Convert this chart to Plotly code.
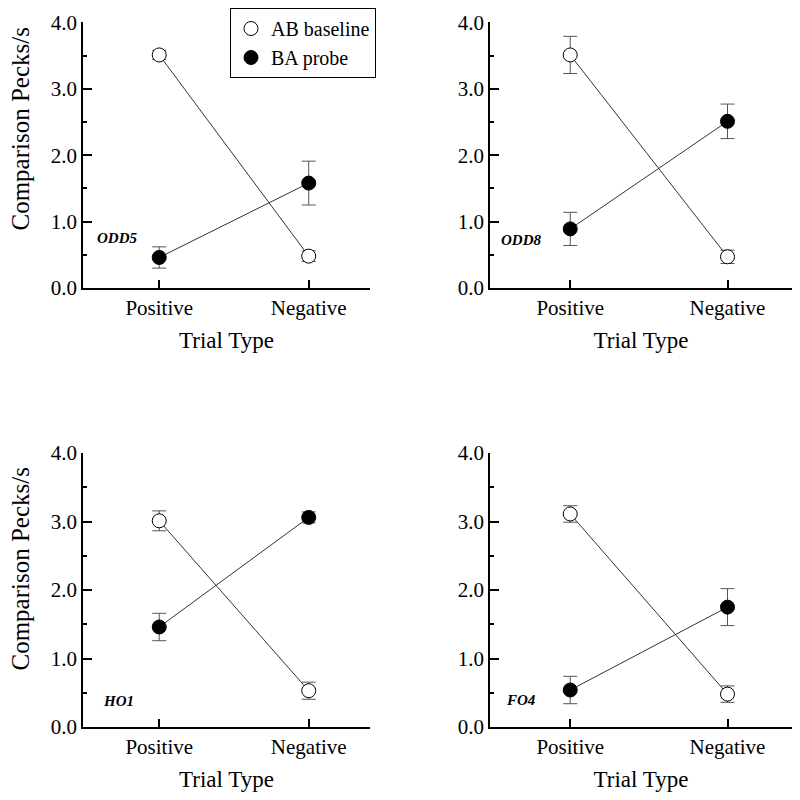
import plotly.graph_objects as go

categories = ["Positive", "Negative"]
subjects = ["ODD5", "ODD8", "HO1", "FO4"]

ab_baseline = {
    "ODD5": [3.51, 0.48],
    "ODD8": [3.51, 0.47],
    "HO1": [3.01, 0.53],
    "FO4": [3.11, 0.48],
}
ab_err = {
    "ODD5": [0.07, 0.08],
    "ODD8": [0.28, 0.10],
    "HO1": [0.145, 0.125],
    "FO4": [0.12, 0.12],
}
ba_probe = {
    "ODD5": [0.46, 1.58],
    "ODD8": [0.89, 2.51],
    "HO1": [1.46, 3.06],
    "FO4": [0.54, 1.75],
}
ba_err = {
    "ODD5": [0.16, 0.33],
    "ODD8": [0.25, 0.26],
    "HO1": [0.20, 0.08],
    "FO4": [0.20, 0.27],
}
label_pos = {  # (x, y) for subject labels in data coords
    "ODD5": (-0.43, 0.75),
    "ODD8": (-0.45, 0.73),
    "HO1": (-0.39, 0.38),
    "FO4": (-0.42, 0.39),
}

FONT = "Times New Roman"
OFF = 8 / 800  # page body offset compensation
xdoms = [(0.10375 - OFF, 0.4625 - OFF), (0.6125 - OFF, 0.99 - OFF)]
ydoms = [(0.65, 0.982), (0.09125 + OFF, 0.43375 + OFF)]
ytitle_y = [0.84875, 0.29875]

fig = go.Figure()
layout = {}
annotations = []

for i, s in enumerate(subjects):
    r, c = divmod(i, 2)
    n = i + 1
    xa = "x" if n == 1 else f"x{n}"
    ya = "y" if n == 1 else f"y{n}"
    for vals in (ab_baseline[s], ba_probe[s]):
        fig.add_trace(go.Scatter(
            x=categories, y=vals, mode="lines", xaxis=xa, yaxis=ya,
            line=dict(color="#333333", width=1), showlegend=False, hoverinfo="skip"))
    fig.add_trace(go.Scatter(
        x=categories, y=ab_baseline[s], mode="markers", xaxis=xa, yaxis=ya,
        name="AB baseline", legendgroup="ab", showlegend=(i == 0),
        marker=dict(symbol="circle", size=14, color="white",
                    line=dict(color="black", width=1)),
        error_y=dict(type="data", array=ab_err[s], color="#555555",
                     thickness=1, width=7)))
    fig.add_trace(go.Scatter(
        x=categories, y=ba_probe[s], mode="markers", xaxis=xa, yaxis=ya,
        name="BA probe", legendgroup="ba", showlegend=(i == 0),
        marker=dict(symbol="circle", size=14, color="black",
                    line=dict(color="black", width=1)),
        error_y=dict(type="data", array=ba_err[s], color="#555555",
                     thickness=1, width=7)))

    key = "" if n == 1 else str(n)
    layout[f"xaxis{key}"] = dict(
        domain=xdoms[c], anchor=ya, type="category", automargin=False,
        categoryorder="array", categoryarray=categories,
        range=[-0.51, 1.41], showline=True, linecolor="black", linewidth=1.5,
        ticks="inside", ticklen=8, tickcolor="black", tickwidth=1.5,
        showgrid=False, zeroline=False, ticklabeloverflow="allow",
        tickfont=dict(family=FONT, size=21, color="black"),
        title=dict(text="Trial Type", font=dict(family=FONT, size=23, color="black"),
                   standoff=13))
    layout[f"yaxis{key}"] = dict(
        domain=ydoms[r], anchor=xa, range=[0, 4], automargin=False,
        tickvals=[0, 1, 2, 3, 4], tickformat=".1f", ticklabeloverflow="allow",
        showline=True, linecolor="black", linewidth=1.5,
        ticks="inside", ticklen=9, tickcolor="black", tickwidth=1.5,
        minor=dict(tickvals=[0.5, 1.5, 2.5, 3.5], ticks="inside", ticklen=4,
                   tickcolor="black", tickwidth=1.5),
        showgrid=False, zeroline=False,
        tickfont=dict(family=FONT, size=21, color="black"))
    lx, ly = label_pos[s]
    annotations.append(dict(
        x=lx, y=ly, xref=xa, yref=ya, text=f"<b><i>{s}</i></b>",
        showarrow=False, xanchor="left", yanchor="middle",
        font=dict(family=FONT, size=15, color="black")))
    if c == 0:
        annotations.append(dict(
            x=0, y=ytitle_y[r], xref="paper", yref="paper", xshift=-4,
            text="Comparison Pecks/s", textangle=-90, showarrow=False,
            xanchor="left", yanchor="middle",
            font=dict(family=FONT, size=25, color="black")))

fig.update_layout(
    width=800, height=800,
    margin=dict(l=0, r=0, t=0, b=0, autoexpand=False),
    paper_bgcolor="white", plot_bgcolor="white",
    font=dict(family=FONT, color="black"),
    legend=dict(x=0.2875 - OFF, y=1.0, xanchor="left", yanchor="top",
                bordercolor="black", borderwidth=1, bgcolor="white",
                font=dict(family=FONT, size=20, color="black"),
                tracegroupgap=0, itemwidth=30),
    annotations=annotations,
    **layout)

fig.write_html("out.html")
